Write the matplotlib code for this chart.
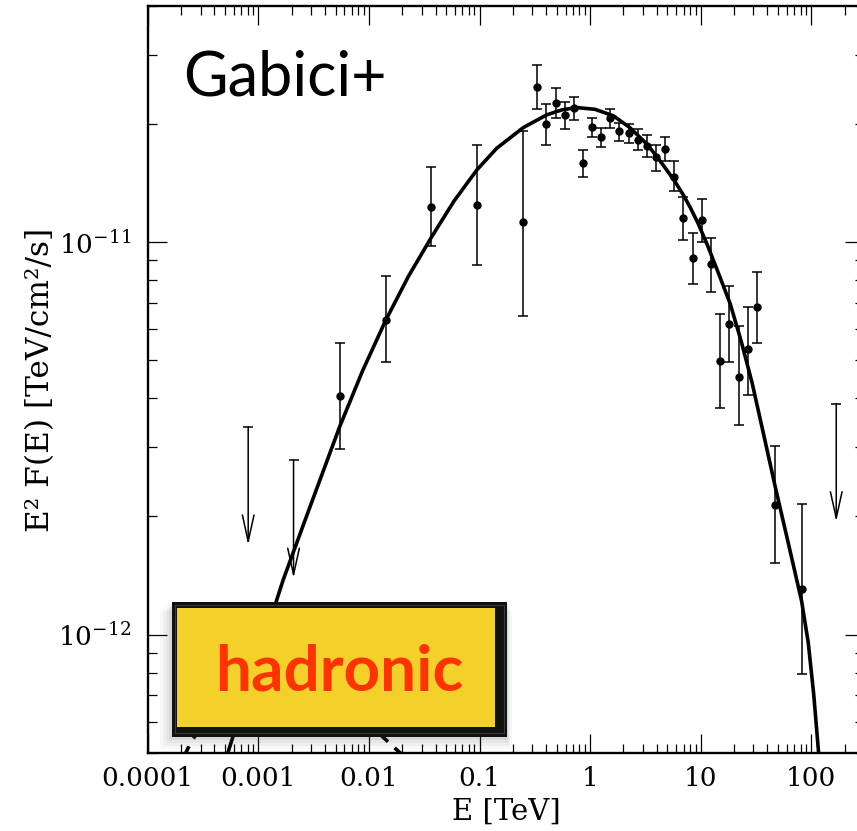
import matplotlib
matplotlib.use('Agg')
import matplotlib.pyplot as plt
from matplotlib.patches import Rectangle
from matplotlib.ticker import FixedLocator, FixedFormatter, LogLocator, NullFormatter

plt.rcParams['mathtext.fontset'] = 'dejavuserif'
plt.rcParams['font.family'] = ['DejaVu Serif']

# ---------------- data ----------------
energy = [5.43e-3, 0.01416, 0.0366, 0.0949, 0.2476, 0.3294, 0.3996, 0.4893, 0.590, 0.712,
          0.859, 1.043, 1.257, 1.526, 1.841, 2.240, 2.702, 3.26, 3.956, 4.80,
          5.79, 6.99, 8.50, 10.32, 12.52, 15.11, 18.22, 22.17, 26.74, 32.46,
          47.5, 81.7]
flux = [4.06e-12, 6.35e-12, 1.232e-11, 1.247e-11, 1.124e-11, 2.488e-11, 2.00e-11, 2.27e-11, 2.112e-11, 2.204e-11,
        1.588e-11, 1.968e-11, 1.853e-11, 2.079e-11, 1.923e-11, 1.893e-11, 1.824e-11, 1.762e-11, 1.645e-11, 1.728e-11,
        1.469e-11, 1.153e-11, 9.09e-12, 1.14e-11, 8.78e-12, 4.97e-12, 6.18e-12, 4.54e-12, 5.33e-12, 6.82e-12,
        2.145e-12, 1.307e-12]
flux_hi = [5.54e-12, 8.18e-12, 1.557e-11, 1.772e-11, 1.923e-11, 2.83e-11, 2.248e-11, 2.478e-11, 2.283e-11, 2.35e-11,
           1.718e-11, 2.079e-11, 1.96e-11, 2.19e-11, 2.019e-11, 2.007e-11, 1.938e-11, 1.879e-11, 1.768e-11, 1.857e-11,
           1.607e-11, 1.301e-11, 1.054e-11, 1.289e-11, 1.028e-11, 6.55e-12, 7.72e-12, 6.11e-12, 6.82e-12, 8.39e-12,
           3.02e-12, 2.157e-12]
flux_lo = [2.98e-12, 4.94e-12, 9.77e-12, 8.74e-12, 6.50e-12, 2.188e-11, 1.768e-11, 2.072e-11, 1.938e-11, 2.051e-11,
           1.463e-11, 1.849e-11, 1.744e-11, 1.96e-11, 1.814e-11, 1.785e-11, 1.718e-11, 1.645e-11, 1.521e-11, 1.607e-11,
           1.348e-11, 1.016e-11, 7.84e-12, 1.004e-11, 7.48e-12, 3.78e-12, 4.94e-12, 3.42e-12, 4.08e-12, 5.54e-12,
           1.524e-12, 7.93e-13]

ul_energy = [8.09e-4, 2.08e-3, 168.3]
ul_flux = [3.385e-12, 2.786e-12, 3.88e-12]

model_energy = [4.87e-4, 5.91e-4, 9.9e-4, 1.677e-3, 2.92e-3, 5.43e-3, 8.77e-3, 0.01416, 0.02278, 0.0366,
                0.05876, 0.0949, 0.1431, 0.249, 0.4056, 0.558, 0.758, 1.11, 1.625, 2.301,
                3.26, 3.998, 4.77, 5.79, 6.99, 8.04, 9.49, 11.38, 14.40, 18.49,
                23.26, 29.24, 37.56, 47.5, 61.9, 81.7, 93.96, 105.3, 116.4, 120.6]
model_flux = [4.64e-13, 5.51e-13, 8.69e-13, 1.379e-12, 2.111e-12, 3.385e-12, 4.706e-12, 6.32e-12, 8.19e-12, 1.028e-11,
              1.273e-11, 1.530e-11, 1.736e-11, 1.960e-11, 2.112e-11, 2.175e-11, 2.204e-11, 2.181e-11, 2.100e-11, 1.957e-11,
              1.779e-11, 1.656e-11, 1.548e-11, 1.435e-11, 1.318e-11, 1.227e-11, 1.116e-11, 9.91e-12, 8.375e-12, 6.97e-12,
              5.592e-12, 4.372e-12, 3.187e-12, 2.365e-12, 1.714e-12, 1.220e-12, 9.54e-13, 7.04e-13, 5.02e-13, 4.41e-13]

dash_energy = [2.07e-4, 2.50e-4, 4.04e-4, 1.032e-3, 2.92e-3, 6.73e-3, 0.01258, 0.02208]
dash_flux = [4.81e-13, 5.38e-13, 6.37e-13, 7.68e-13, 8.05e-13, 7.25e-13, 5.57e-13, 4.81e-13]

x_ticks = [1e-4, 1e-3, 1e-2, 1e-1, 1, 10, 100]
x_ticklabels = ['0.0001', '0.001', '0.01', '0.1', '1', '10', '100']
y_ticks = [1e-12, 1e-11]
y_ticklabels = [r'$10^{-12}$', r'$10^{-11}$']

# ---------------- figure ----------------
W, H = 857, 831
fig = plt.figure(figsize=(W / 100, H / 100), dpi=100)
ax_l, ax_r, ax_t, ax_b = 147.8, 864.0, 6.0, 752.7
ax = fig.add_axes([ax_l / W, 1 - ax_b / H, (ax_r - ax_l) / W, (ax_b - ax_t) / H])
ax.set_xscale('log')
ax.set_yscale('log')
ax.set_xlim(1e-4, 300)
ax.set_ylim(5e-13, 4e-11)

ax.plot(model_energy, model_flux, color='k', lw=2.6, solid_joinstyle='round', zorder=3)
ax.plot(dash_energy, dash_flux, color='k', lw=2.6, ls=(0, (4, 2.5)), zorder=3)

yerr = [[f - lo for f, lo in zip(flux, flux_lo)], [hi - f for f, hi in zip(flux, flux_hi)]]
ax.errorbar(energy, flux, yerr=yerr, fmt='o', color='k', ms=5, capsize=3.6,
            elinewidth=1.1, capthick=1.1, zorder=4)

for e, u in zip(ul_energy, ul_flux):
    ax.annotate('', xy=(e, u * 0.5), xytext=(e, u),
                arrowprops=dict(arrowstyle='->,head_length=19,head_width=4.2',
                                mutation_scale=1, lw=1.1, color='k',
                                shrinkA=0, shrinkB=0), zorder=4)
    ax.plot([e], [u], marker='_', ms=7, mew=1.1, color='k', zorder=4)

ax.xaxis.set_major_locator(FixedLocator(x_ticks))
ax.xaxis.set_major_formatter(FixedFormatter(x_ticklabels))
ax.xaxis.set_minor_locator(LogLocator(base=10, subs=range(2, 10), numticks=50))
ax.xaxis.set_minor_formatter(NullFormatter())
ax.yaxis.set_major_locator(FixedLocator(y_ticks))
ax.yaxis.set_major_formatter(FixedFormatter(y_ticklabels))
ax.yaxis.set_minor_locator(LogLocator(base=10, subs=range(2, 10), numticks=50))
ax.yaxis.set_minor_formatter(NullFormatter())

ax.tick_params(which='both', direction='in', top=True, right=True, width=0.9)
ax.tick_params(which='major', length=13.7, labelsize=19)
ax.tick_params(axis='x', which='major', pad=9.5)
ax.tick_params(axis='y', which='major', pad=12)
ax.tick_params(which='minor', length=6.5)
for s in ax.spines.values():
    s.set_linewidth(1.7)

fig.text(505.9 / W, 1 - 798 / H, 'E [TeV]', ha='center', va='top', fontsize=21)
fig.text(40.7 / W, 1 - 380 / H, 'E² F(E) [TeV/cm²/s]', ha='center', va='center',
         rotation=90, fontsize=22.5)

fig.text(183 / W, 1 - 95 / H, 'Gabici+', ha='left', va='baseline', fontsize=44,
         family='Lato', color='k')

# ---------------- "hadronic" sticky label ----------------
def frect(x0, y0, x1, y1, **kw):
    r = Rectangle((x0 / W, 1 - y1 / H), (x1 - x0) / W, (y1 - y0) / H,
                  transform=fig.transFigure, **kw)
    fig.add_artist(r)
    return r

for i, a in enumerate([0.04, 0.05, 0.06, 0.08]):
    g = 12 - 3 * i
    frect(171.7 - g, 601.7 + g * 0.8, 506.7 + g * 0.4, 736.7 + g, facecolor='#555555',
          edgecolor='none', alpha=a, zorder=10)
frect(171.7, 601.7, 506.7, 736.7, facecolor='#111111', edgecolor='none', zorder=11)
frect(174.5, 604.5, 503.5, 733.0, facecolor='none', edgecolor='#3a3a3a', lw=0.8, zorder=12)
frect(177.0, 608.3, 495.0, 727.0, facecolor='#F4D02A', edgecolor='none', zorder=13)
fig.text(339 / W, 1 - 672 / H, 'hadronic', ha='center', va='center', fontsize=46,
         family='Lato', fontweight='bold', color='#FF3300', zorder=14)

fig.savefig('out.png', dpi=100)
